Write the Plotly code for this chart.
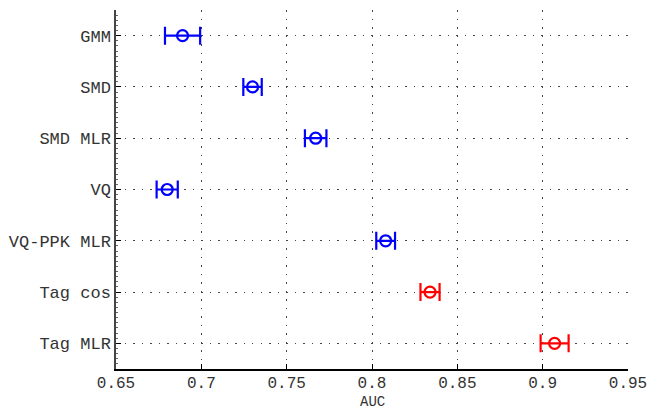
import plotly.graph_objects as go

methods = ["GMM", "SMD", "SMD MLR", "VQ", "VQ-PPK MLR", "Tag cos", "Tag MLR"]
auc = [0.689, 0.730, 0.767, 0.680, 0.808, 0.834, 0.907]
err = [0.0103, 0.0054, 0.0063, 0.0062, 0.0055, 0.0056, 0.0082]
group = ["baseline", "baseline", "baseline", "baseline", "baseline", "tag", "tag"]
x_ticks = [0.65, 0.7, 0.75, 0.8, 0.85, 0.9, 0.95]
x_labels = ["0.65", "0.7", "0.75", "0.8", "0.85", "0.9", "0.95"]
x_title = "AUC"

colors = {"baseline": "#0000ff", "tag": "#ff0000"}
font_fam = "Courier New, Liberation Mono, monospace"

ypos = list(range(1, len(methods) + 1))

fig = go.Figure()
for g, c in colors.items():
    idx = [i for i, gg in enumerate(group) if gg == g]
    fig.add_trace(go.Scatter(
        x=[auc[i] for i in idx],
        y=[ypos[i] for i in idx],
        mode="markers",
        marker=dict(symbol="circle-open", size=11, color=c, line=dict(width=2.2, color=c)),
        error_x=dict(type="data", array=[err[i] for i in idx], color=c, thickness=2.2, width=9),
        showlegend=False,
        hoverinfo="x+y",
    ))

grid_dash = "1.5px,7px"
fig.update_layout(
    width=649, height=410,
    margin=dict(l=116, r=21, t=10, b=41),
    plot_bgcolor="white", paper_bgcolor="white",
    font=dict(family=font_fam, size=17, color="#333333"),
)
fig.add_annotation(
    text=x_title, xref="paper", yref="paper", x=0.5, y=0,
    xanchor="center", yanchor="middle", yshift=-33, showarrow=False,
    font=dict(family=font_fam, size=14, color="#333333"),
)
fig.update_xaxes(
    range=[0.65, 0.95], tickvals=x_ticks, ticktext=x_labels,
    automargin=False, tickfont=dict(size=16), ticklabelstandoff=-2,
    showline=True, linecolor="black", linewidth=1.5, mirror=False,
    ticks="inside", ticklen=5, tickcolor="black", tickwidth=1,
    showgrid=True, gridcolor="#444444", griddash=grid_dash, gridwidth=1,
    zeroline=False,
)
fig.update_yaxes(
    range=[len(methods) + 0.5, 0.5], tickvals=ypos, ticktext=methods,
    automargin=False,
    showline=True, linecolor="#444444", linewidth=1.5,
    ticks="inside", ticklen=5, tickcolor="black", tickwidth=1,
    minor=dict(dtick=0.1, ticks="inside", ticklen=2, tickcolor="#666666", showgrid=False),
    showgrid=True, gridcolor="#444444", griddash=grid_dash, gridwidth=1,
    zeroline=False,
)

fig.write_html(
    "out.html",
    config={"displayModeBar": False},
    post_script="document.body.style.margin='0';document.body.style.overflow='hidden';",
)
